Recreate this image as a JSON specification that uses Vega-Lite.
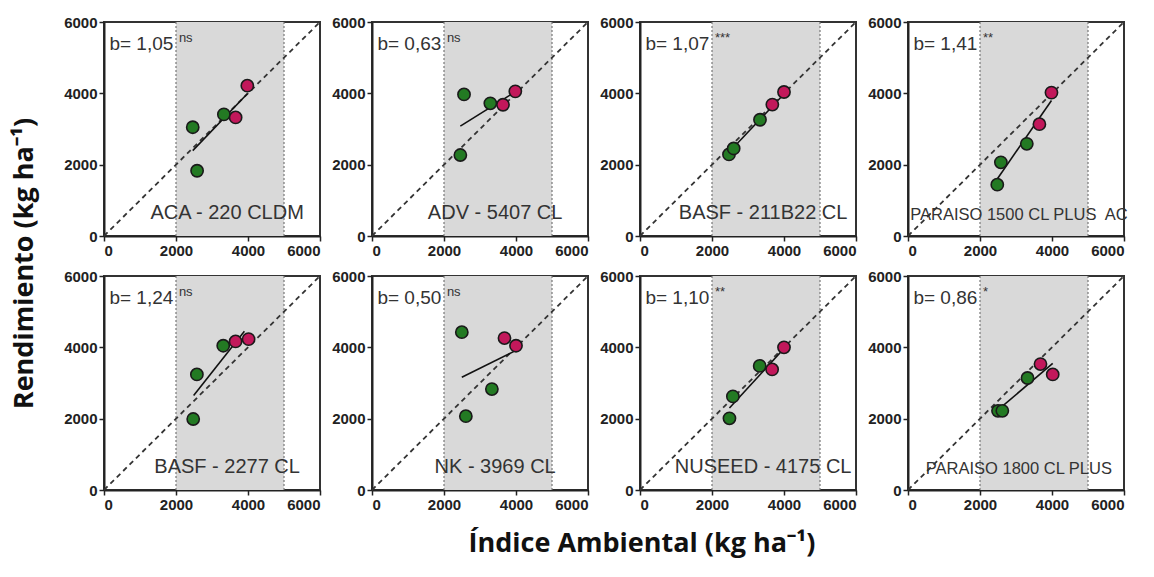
{
  "$schema": "https://vega.github.io/schema/vega-lite/v6.json",
  "padding": {"left": 10, "top": 14, "right": 5, "bottom": 10},
  "background": "white",
  "data": {"values": [
    {"kind": "info", "panel": "1", "label": "ACA - 220 CLDM", "b": "b= 1,05", "sig": "ns"},
    {"kind": "info", "panel": "2", "label": "ADV - 5407 CL", "b": "b= 0,63", "sig": "ns"},
    {"kind": "info", "panel": "3", "label": "BASF - 211B22 CL", "b": "b= 1,07", "sig": "***"},
    {"kind": "info", "panel": "4", "label": "PARAISO 1500 CL PLUS\u00a0 AC", "b": "b= 1,41", "sig": "**"},
    {"kind": "info", "panel": "5", "label": "BASF - 2277 CL", "b": "b= 1,24", "sig": "ns"},
    {"kind": "info", "panel": "6", "label": "NK - 3969 CL", "b": "b= 0,50", "sig": "ns"},
    {"kind": "info", "panel": "7", "label": "NUSEED - 4175 CL", "b": "b= 1,10", "sig": "**"},
    {"kind": "info", "panel": "8", "label": "PARAISO 1800 CL PLUS", "b": "b= 0,86", "sig": "*"},

    {"kind": "pt", "panel": "1", "x": 2465, "y": 3050, "grp": "A"},
    {"kind": "pt", "panel": "1", "x": 2586, "y": 1830, "grp": "A"},
    {"kind": "pt", "panel": "1", "x": 3330, "y": 3410, "grp": "A"},
    {"kind": "pt", "panel": "1", "x": 3656, "y": 3325, "grp": "B"},
    {"kind": "pt", "panel": "1", "x": 3981, "y": 4215, "grp": "B"},
    {"kind": "pt", "panel": "2", "x": 2556, "y": 3970, "grp": "A"},
    {"kind": "pt", "panel": "2", "x": 2454, "y": 2270, "grp": "A"},
    {"kind": "pt", "panel": "2", "x": 3287, "y": 3720, "grp": "A"},
    {"kind": "pt", "panel": "2", "x": 3639, "y": 3680, "grp": "B"},
    {"kind": "pt", "panel": "2", "x": 3981, "y": 4055, "grp": "B"},
    {"kind": "pt", "panel": "3", "x": 2472, "y": 2287, "grp": "A"},
    {"kind": "pt", "panel": "3", "x": 2602, "y": 2454, "grp": "A"},
    {"kind": "pt", "panel": "3", "x": 3333, "y": 3259, "grp": "A"},
    {"kind": "pt", "panel": "3", "x": 3676, "y": 3685, "grp": "B"},
    {"kind": "pt", "panel": "3", "x": 4000, "y": 4037, "grp": "B"},
    {"kind": "pt", "panel": "4", "x": 2480, "y": 1440, "grp": "A"},
    {"kind": "pt", "panel": "4", "x": 2580, "y": 2065, "grp": "A"},
    {"kind": "pt", "panel": "4", "x": 3300, "y": 2585, "grp": "A"},
    {"kind": "pt", "panel": "4", "x": 3650, "y": 3135, "grp": "B"},
    {"kind": "pt", "panel": "4", "x": 3985, "y": 4020, "grp": "B"},
    {"kind": "pt", "panel": "5", "x": 2478, "y": 1990, "grp": "A"},
    {"kind": "pt", "panel": "5", "x": 2580, "y": 3240, "grp": "A"},
    {"kind": "pt", "panel": "5", "x": 3312, "y": 4045, "grp": "A"},
    {"kind": "pt", "panel": "5", "x": 3655, "y": 4165, "grp": "B"},
    {"kind": "pt", "panel": "5", "x": 4016, "y": 4230, "grp": "B"},
    {"kind": "pt", "panel": "6", "x": 2495, "y": 4425, "grp": "A"},
    {"kind": "pt", "panel": "6", "x": 2607, "y": 2070, "grp": "A"},
    {"kind": "pt", "panel": "6", "x": 3330, "y": 2830, "grp": "A"},
    {"kind": "pt", "panel": "6", "x": 3680, "y": 4260, "grp": "B"},
    {"kind": "pt", "panel": "6", "x": 4000, "y": 4045, "grp": "B"},
    {"kind": "pt", "panel": "7", "x": 2485, "y": 2010, "grp": "A"},
    {"kind": "pt", "panel": "7", "x": 2580, "y": 2625, "grp": "A"},
    {"kind": "pt", "panel": "7", "x": 3325, "y": 3480, "grp": "A"},
    {"kind": "pt", "panel": "7", "x": 3670, "y": 3380, "grp": "B"},
    {"kind": "pt", "panel": "7", "x": 4000, "y": 4000, "grp": "B"},
    {"kind": "pt", "panel": "8", "x": 2500, "y": 2220, "grp": "A"},
    {"kind": "pt", "panel": "8", "x": 2620, "y": 2220, "grp": "A"},
    {"kind": "pt", "panel": "8", "x": 3320, "y": 3140, "grp": "A"},
    {"kind": "pt", "panel": "8", "x": 3680, "y": 3530, "grp": "B"},
    {"kind": "pt", "panel": "8", "x": 4020, "y": 3240, "grp": "B"},

    {"kind": "fit", "panel": "1", "x": 2465, "y": 2395},
    {"kind": "fit", "panel": "1", "x": 3981, "y": 3990},
    {"kind": "fit", "panel": "2", "x": 2454, "y": 3080},
    {"kind": "fit", "panel": "2", "x": 3981, "y": 4042},
    {"kind": "fit", "panel": "3", "x": 2472, "y": 2347},
    {"kind": "fit", "panel": "3", "x": 4000, "y": 3982},
    {"kind": "fit", "panel": "4", "x": 2480, "y": 1600},
    {"kind": "fit", "panel": "4", "x": 3985, "y": 3800},
    {"kind": "fit", "panel": "5", "x": 2490, "y": 2650},
    {"kind": "fit", "panel": "5", "x": 3900, "y": 4450},
    {"kind": "fit", "panel": "6", "x": 2495, "y": 3163},
    {"kind": "fit", "panel": "6", "x": 4000, "y": 3915},
    {"kind": "fit", "panel": "7", "x": 2485, "y": 2299},
    {"kind": "fit", "panel": "7", "x": 4000, "y": 3966},
    {"kind": "fit", "panel": "8", "x": 2500, "y": 2244},
    {"kind": "fit", "panel": "8", "x": 4020, "y": 3551}
  ]},
  "title": {"text": "Índice Ambiental (kg ha⁻¹)", "orient": "bottom", "anchor": "middle", "font": "Open Sans", "fontSize": 27, "fontWeight": "bold", "color": "#111", "offset": 18, "dx": 72},
  "vconcat": [
    {
      "title": {"text": "Rendimiento (kg ha⁻¹)", "orient": "left", "anchor": "middle", "font": "Open Sans", "fontSize": 27, "fontWeight": "bold", "color": "#111", "offset": 24},
      "facet": {"field": "panel", "type": "ordinal", "header": {"title": null, "labels": false, "labelExpr": "''", "labelPadding": 0, "labelFontSize": 0}},
      "columns": 4,
      "bounds": "flush",
      "spacing": {"row": 40, "column": 52},
      "resolve": {"axis": {"x": "independent", "y": "independent"}},
      "spec": {
        "width": 216,
        "height": 214,
        "layer": [
          {
            "transform": [{"filter": "datum.kind == 'info'"}],
            "mark": {"type": "rect", "color": "#d9d9d9"},
            "encoding": {
              "x": {"datum": 2000, "type": "quantitative", "scale": {"domain": [0, 6000], "nice": false}, "axis": {"values": [0, 2000, 4000, 6000], "format": "d", "title": null}},
              "x2": {"datum": 5000},
              "y": {"datum": 0, "type": "quantitative", "scale": {"domain": [0, 6000], "nice": false}, "axis": {"values": [0, 2000, 4000, 6000], "format": "d", "title": null}},
              "y2": {"datum": 6000}
            }
          },
          {
            "transform": [{"filter": "datum.kind == 'info'"}],
            "mark": {"type": "rule", "color": "#777", "strokeDash": [2, 2], "strokeWidth": 1.2},
            "encoding": {"x": {"datum": 2000, "type": "quantitative"}}
          },
          {
            "transform": [{"filter": "datum.kind == 'info'"}],
            "mark": {"type": "rule", "color": "#777", "strokeDash": [2, 2], "strokeWidth": 1.2},
            "encoding": {"x": {"datum": 5000, "type": "quantitative"}}
          },
          {
            "transform": [{"filter": "datum.kind == 'info'"}],
            "mark": {"type": "rule", "color": "#333", "strokeDash": [5, 4], "strokeWidth": 1.8},
            "encoding": {
              "x": {"datum": 0, "type": "quantitative"},
              "y": {"datum": 0, "type": "quantitative"},
              "x2": {"datum": 6000},
              "y2": {"datum": 6000}
            }
          },
          {
            "transform": [{"filter": "datum.kind == 'fit'"}],
            "mark": {"type": "line", "color": "#111", "strokeWidth": 1.6},
            "encoding": {
              "x": {"field": "x", "type": "quantitative"},
              "y": {"field": "y", "type": "quantitative"}
            }
          },
          {
            "transform": [{"filter": "datum.kind == 'pt'"}],
            "mark": {"type": "circle", "size": 150, "opacity": 1, "stroke": "#1a1a1a", "strokeWidth": 1.6},
            "encoding": {
              "x": {"field": "x", "type": "quantitative"},
              "y": {"field": "y", "type": "quantitative"},
              "color": {"field": "grp", "type": "nominal", "scale": {"domain": ["A", "B"], "range": ["#237a23", "#c2185b"]}, "legend": null}
            }
          },
          {
            "transform": [{"filter": "datum.kind == 'info'"}],
            "mark": {"type": "text", "align": "left", "baseline": "middle", "font": "Liberation Sans", "fontSize": 19, "color": "#333"},
            "encoding": {
              "x": {"datum": 150, "type": "quantitative"},
              "y": {"datum": 5370, "type": "quantitative"},
              "text": {"field": "b"}
            }
          },
          {
            "transform": [{"filter": "datum.kind == 'info'"}],
            "mark": {"type": "text", "align": "left", "baseline": "middle", "font": "Liberation Sans", "fontSize": 13, "color": "#333"},
            "encoding": {
              "x": {"datum": 2080, "type": "quantitative"},
              "y": {"datum": 5560, "type": "quantitative"},
              "text": {"field": "sig"}
            }
          },
          {
            "transform": [{"filter": "datum.kind == 'info' && indexof(datum.label, 'PARAISO') < 0"}],
            "mark": {"type": "text", "align": "center", "baseline": "middle", "font": "Liberation Sans", "fontSize": 20, "color": "#333"},
            "encoding": {
              "x": {"datum": 3420, "type": "quantitative"},
              "y": {"datum": 650, "type": "quantitative"},
              "text": {"field": "label"}
            }
          },
          {
            "transform": [{"filter": "datum.kind == 'info' && indexof(datum.label, 'PARAISO') >= 0"}],
            "mark": {"type": "text", "align": "center", "baseline": "middle", "font": "Liberation Sans", "fontSize": 16.5, "color": "#333"},
            "encoding": {
              "x": {"datum": 3080, "type": "quantitative"},
              "y": {"datum": 600, "type": "quantitative"},
              "text": {"field": "label"}
            }
          }
        ]
      }
    }
  ],
  "config": {
    "header": {"labels": false, "title": null},
    "view": {"stroke": "#333", "strokeWidth": 2},
    "axis": {
      "grid": false,
      "domainColor": "#222",
      "domainWidth": 2,
      "tickColor": "#222",
      "tickWidth": 1.5,
      "tickSize": 5,
      "labelFont": "Liberation Sans",
      "labelFontWeight": "bold",
      "labelFontSize": 15,
      "labelColor": "#222",
      "labelPadding": 2
    }
  }
}
